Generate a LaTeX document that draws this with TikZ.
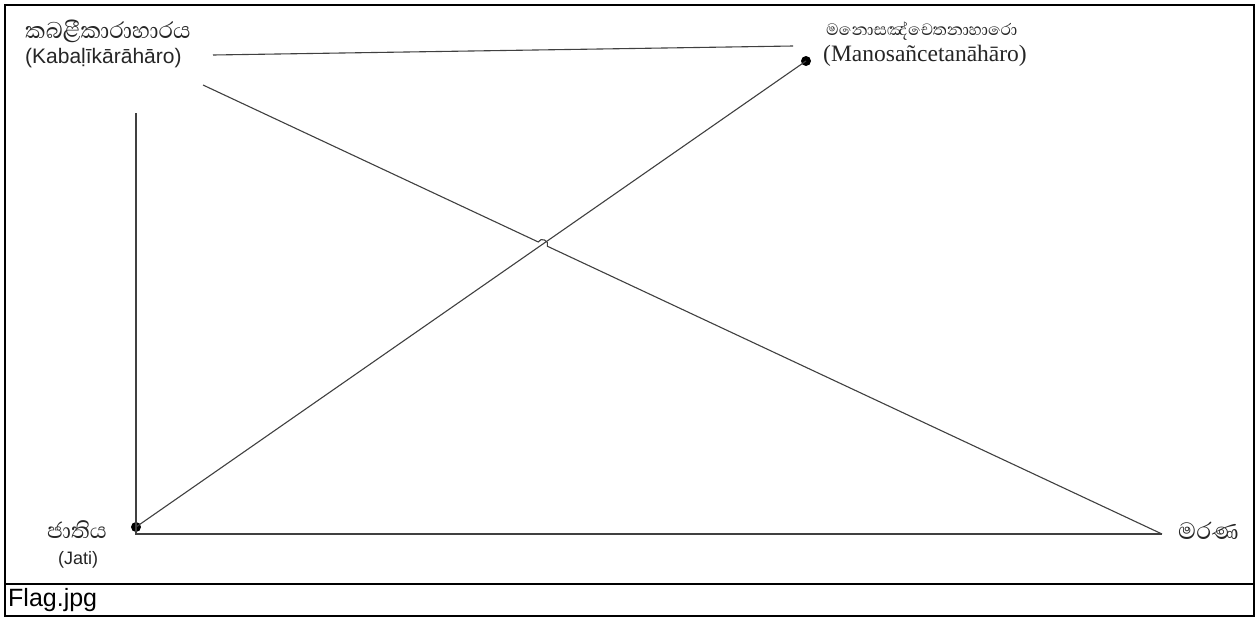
\documentclass[tikz,border=0pt]{standalone}
\usepackage{fontspec}
\usetikzlibrary{calc}
\newfontfamily\sinhfont[Script=Sinhala]{Abhaya Libre}
\newfontfamily\sansfont{Liberation Sans}
\newfontfamily\seriffont{Liberation Serif}
\begin{document}
\begin{tikzpicture}[x=1pt,y=-1pt,
  frameline/.style={line width=2pt,black},
  link/.style={line width=1.1pt,black!75},
  dotmark/.style={circle,fill=black,inner sep=0pt,minimum size=10pt},
  label/.style={inner sep=0pt,anchor=west,text=black!85}]
\useasboundingbox (0,0) rectangle (1257,619);
\fill[white] (0,0) rectangle (1257,619);
% frame and caption strip
\draw[frameline] (5,5) rectangle (1254,616);
\draw[frameline] (5,584) -- (1254,584);
\node[label,font=\sansfont\fontsize{25}{28}\selectfont,text=black] (cap) at (8,600) {Flag.jpg};

% texts
\node[label,font=\sinhfont\fontsize{29}{32}\selectfont] (kabs) at (25,31) {කබළීකාරාහාරය};
\node[label,font=\sansfont\fontsize{21}{24}\selectfont] (kabl) at (25,58) {(Kabaḷīkārāhāro)};
\node[label,font=\sinhfont\fontsize{21}{24}\selectfont] (manos) at (826,31) {මනොසඤ්චෙතනාහාරො};
\node[label,font=\seriffont\fontsize{23.5}{26}\selectfont] (manol) at (823,56) {(Manosañcetanāhāro)};
\node[label,font=\sinhfont\fontsize{28}{31}\selectfont] (jatis) at (47,530) {ජාතිය};
\node[label,font=\sansfont\fontsize{18}{21}\selectfont] (jatil) at (58,560) {(Jati)};
\node[label,font=\sinhfont\fontsize{30}{33}\selectfont] (mara) at (1178,531) {මරණ};

% connector end points
\node[dotmark] (jd) at (136,527) {};
\node[dotmark] (md) at (806,61) {};
\coordinate (kr) at (213,55);
\coordinate (ml) at (793,46);
\coordinate (kd) at (203,85);
\coordinate (me) at (1162,534);
\coordinate (vt) at (136,113);
\coordinate (vb) at (136,534);
\coordinate (h1) at ($(kd)!0.3496!(me)$);
\coordinate (h2) at ($(kd)!0.3591!(me)$);

% connectors
\draw[link] (kr) -- (ml);
\draw[link] (vt) -- (vb) -- (me);
\draw[link] (jd.center) -- (md.center);
\draw[link] (kd) -- (h1) .. controls ($(h1)+(2.5,-5.4)$) and ($(h2)+(2.5,-5.4)$) .. (h2) -- (me);
\end{tikzpicture}
\end{document}
